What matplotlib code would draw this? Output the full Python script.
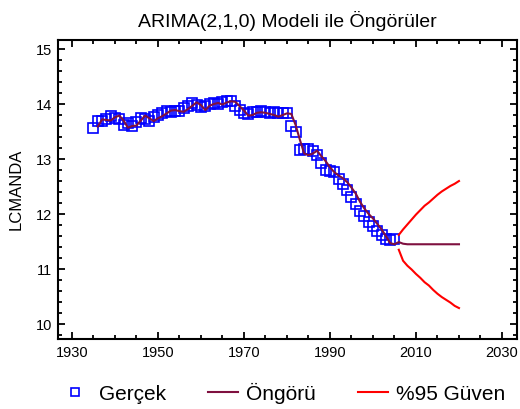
import matplotlib
matplotlib.use("Agg")
import matplotlib.pyplot as plt
from matplotlib.ticker import MultipleLocator
from matplotlib.lines import Line2D

plt.rcParams['font.family'] = ['Liberation Sans', 'DejaVu Sans']

# observed series (LCMANDA), 1935-2005
obs_years = list(range(1935, 2006))
obs_vals = [13.57, 13.70, 13.70, 13.72, 13.78, 13.75, 13.72, 13.62, 13.65, 13.60,
            13.67, 13.75, 13.72, 13.70, 13.76, 13.80, 13.84, 13.88, 13.86, 13.88,
            13.87, 13.92, 13.97, 14.01, 13.98, 13.94, 13.97, 14.00, 14.02, 14.00,
            14.04, 14.05, 14.05, 13.96, 13.90, 13.84, 13.82, 13.85, 13.86, 13.88,
            13.85, 13.83, 13.86, 13.84, 13.83, 13.83, 13.60, 13.50, 13.17, 13.19,
            13.18, 13.15, 13.07, 12.93, 12.80, 12.78, 12.77, 12.63, 12.55, 12.44,
            12.31, 12.18, 12.05, 11.97, 11.86, 11.78, 11.70, 11.62, 11.55, 11.53,
            11.55]

# one-step fitted values 1936-2005 followed by forecasts 2006-2020
fit_years = list(range(1936, 2021))
fit_vals = [13.59, 13.72, 13.71, 13.70, 13.76, 13.79, 13.70, 13.57, 13.60, 13.61,
            13.70, 13.79, 13.74, 13.69, 13.74, 13.78, 13.83, 13.88, 13.89, 13.87,
            13.86, 13.91, 13.97, 14.03, 13.98, 13.89, 13.97, 14.00, 14.02, 13.99,
            14.03, 14.05, 14.04, 13.96, 13.88, 13.79, 13.80, 13.84, 13.85, 13.84,
            13.82, 13.80, 13.77, 13.80, 13.83, 13.82, 13.62, 13.35, 13.10, 13.07,
            13.10, 13.15, 13.05, 12.96, 12.85, 12.76, 12.70, 12.65, 12.58, 12.48,
            12.37, 12.22, 12.10, 12.00, 11.92, 11.82, 11.72, 11.60, 11.47, 11.45,
            11.49, 11.46, 11.45, 11.45, 11.45, 11.45, 11.45, 11.45, 11.45, 11.45,
            11.45, 11.45, 11.45, 11.45, 11.45]

# 95% limits for the forecasts
ci_years = list(range(2006, 2021))
ci_upper = [11.62, 11.72, 11.81, 11.90, 11.99, 12.07, 12.15, 12.21, 12.28, 12.35,
            12.41, 12.46, 12.51, 12.55, 12.60]
ci_lower = [11.35, 11.15, 11.06, 10.99, 10.91, 10.84, 10.76, 10.70, 10.62, 10.55,
            10.49, 10.44, 10.39, 10.33, 10.29]

xticks = [1930, 1950, 1970, 1990, 2010, 2030]

fig = plt.figure(figsize=(5.2, 4.09), dpi=100)
ax = fig.add_axes([0.1115, 0.1711, 0.8827, 0.7323])

ax.plot(obs_years, obs_vals, linestyle='none', marker='s', markersize=7.2,
        markerfacecolor='none', markeredgecolor='#0000ff', markeredgewidth=1.2)
ax.plot(fit_years, fit_vals, color='#7f103f', linewidth=1.5)
ax.plot(ci_years, ci_upper, color='#ff0000', linewidth=1.5)
ax.plot(ci_years, ci_lower, color='#ff0000', linewidth=1.5)

ax.set_xlim(1926.74, 2033.49)
ax.set_ylim(9.727, 15.173)
ax.set_xticks(xticks)
ax.xaxis.set_minor_locator(MultipleLocator(5))
ax.yaxis.set_major_locator(MultipleLocator(1))
ax.yaxis.set_minor_locator(MultipleLocator(0.2))
ax.tick_params(which='both', direction='in', top=True, right=True, width=1.3)
ax.tick_params(which='major', length=5)
ax.tick_params(which='minor', length=3)
ax.tick_params(axis='x', labelsize=10.5, pad=5)
ax.tick_params(axis='y', labelsize=10.5, pad=4)
for s in ax.spines.values():
    s.set_linewidth(1.5)

ax.set_ylabel('LCMANDA', fontsize=12, labelpad=9)
ax.set_title('ARIMA(2,1,0) Modeli ile Öngörüler', fontsize=14, pad=9)

handles = [
    Line2D([], [], linestyle='none', marker='s', markersize=5.5,
           markerfacecolor='none', markeredgecolor='#0000ff', markeredgewidth=1.2),
    Line2D([], [], color='#7f103f', linewidth=1.5),
    Line2D([], [], color='#ff0000', linewidth=1.5),
]
fig.legend(handles, ['Gerçek', 'Öngörü', '%95 Güven'], loc='center',
           bbox_to_anchor=(0.544, 0.039), ncol=3, frameon=False, fontsize=15,
           handlelength=1.45, handletextpad=0.4, columnspacing=2.0)

fig.savefig('out.png', dpi=100)
